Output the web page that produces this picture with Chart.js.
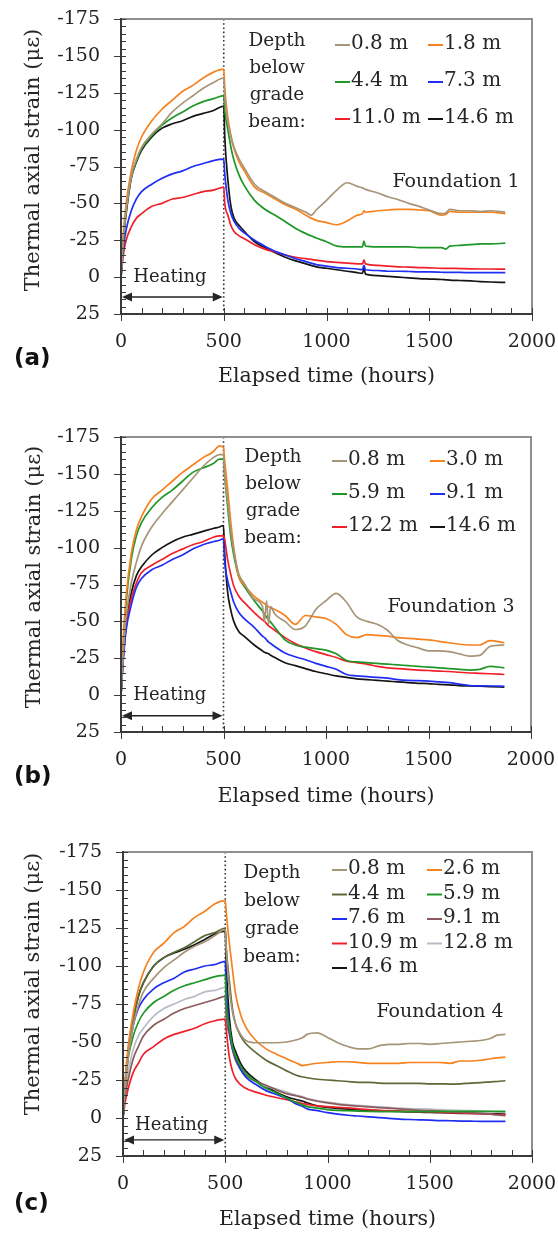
<!DOCTYPE html>
<html>
<head>
<meta charset="utf-8">
<script src="https://cdn.jsdelivr.net/npm/chart.js@4.4.1/dist/chart.umd.min.js"></script>
<style>
  html, body { margin: 0; padding: 0; background: #fff; }
  .panel { position: absolute; left: 0; }
  .rule { position: absolute; z-index: 2; pointer-events: none; }
</style>
</head>
<body>
<canvas id="chartA" class="panel" style="top:0px"></canvas>
<canvas id="chartB" class="panel" style="top:410px"></canvas>
<canvas id="chartC" class="panel" style="top:820px"></canvas>
<script>
// ---- Foundation 1 ----
const hoursF1 = [0, 5, 10, 25, 50, 75, 100, 150, 200, 250, 300, 350, 400, 450, 500,
  505, 520, 535, 550, 575, 600, 650, 700, 750, 800, 850, 900, 925, 950, 1000, 1050, 1100, 1150, 1175, 1182,
  1190, 1250, 1300, 1350, 1400, 1450, 1500, 1560, 1580, 1600, 1650, 1700, 1750, 1800, 1870];
const depthsF1 = ['0.8 m', '1.8 m', '4.4 m', '7.3 m', '11.0 m', '14.6 m'];
const f1_08 = [0, -12, -24, -45, -68, -80, -88, -97, -104, -112, -118, -123, -128, -132, -135,
  -122, -105, -95, -88, -80, -74, -63, -58, -54, -50, -47, -44, -42, -45.5, -52, -59, -64, -61.5, -60.5, -60,
  -59.5, -57, -54.5, -52.5, -50, -48, -45.5, -43, -43.5, -46, -45, -45, -44.5, -45, -44];
const f1_18 = [0, -14, -27, -50, -72, -86, -95, -106, -114, -120, -126, -130, -135, -139, -141,
  -128, -108, -96, -87, -78, -72, -61, -57, -53, -49, -46, -42, -40, -38.5, -37, -35.5, -38, -42, -43, -45,
  -44, -45, -45.5, -46, -46, -45.5, -45, -42, -42.5, -44.5, -44, -44, -44, -44, -43];
const f1_44 = [0, -12, -24, -45, -68, -79, -87, -96, -103, -108, -112, -116, -119, -121, -123,
  -113, -100, -88, -79, -69, -62, -52, -46, -42, -37.5, -33, -29.5, -28, -26.5, -24, -21, -20.5, -20.5, -20.5, -24.5,
  -21, -20.5, -20.5, -20.5, -20.5, -20, -20, -20, -19, -21, -21.5, -22, -22.5, -22.5, -23];
const f1_73 = [0, -9, -18, -32, -45, -53, -58, -63, -67, -70, -72, -75, -77, -79, -80,
  -70, -52, -43, -38, -33, -30, -25, -21, -17.5, -15, -12.5, -10.5, -9.5, -8.5, -7.5, -6.5, -6, -5.5, -5, -8,
  -5, -4.5, -4, -4, -3.8, -3.5, -3.5, -3.3, -3.2, -3.2, -3.2, -3, -3, -3, -3];
const f1_110 = [0, -7, -14, -25, -34, -40, -43, -48, -50, -53, -54, -56, -58, -59, -61,
  -50, -42, -35, -31, -28, -26, -22, -19, -17, -15, -13.5, -12.5, -12, -11.5, -10.5, -10, -9.5, -9, -9, -11.5,
  -9, -8, -7.5, -7, -6.8, -6.5, -6.3, -6, -6, -6, -5.8, -5.6, -5.5, -5.5, -5.4];
const f1_146 = [0, -12, -23, -43, -67, -78, -86, -95, -101, -104, -106, -109, -111, -113, -116,
  -95, -66, -48, -40, -35, -31, -24, -20, -16.5, -13.5, -11, -9, -8, -7, -6, -5, -4, -3, -2.5, -6,
  -2, -1, -0.5, 0, 0.5, 1, 1.3, 1.6, 1.8, 2, 2.3, 2.6, 3, 3.3, 3.6];

// ---- Foundation 3 ----
const hoursF3 = [0, 5, 10, 25, 50, 75, 100, 150, 200, 250, 300, 350, 400, 450, 480, 500,
  505, 520, 535, 550, 575, 600, 650, 690, 700, 710, 720, 730, 750, 800,
  850, 900, 950, 1000, 1050, 1100, 1150, 1200, 1250, 1300,
  1350, 1400, 1450, 1500, 1550, 1600, 1650, 1700, 1750, 1800, 1870];
const depthsF3 = ['0.8 m', '3.0 m', '5.9 m', '9.1 m', '12.2 m', '14.6 m'];
const f3_08 = [0, -13, -26, -53, -76, -90, -101, -114, -123, -131, -139, -147, -155, -161, -163, -163,
  -150, -132, -112, -98, -82, -76, -65, -60, -50, -64, -48, -60, -55, -50,
  -44.5, -47, -58, -64, -69, -63, -53, -50, -48, -44,
  -37, -34, -32, -30, -30, -29.5, -28, -26.5, -27, -33, -34];
const f3_30 = [0, -18, -36, -67, -96, -112, -121, -133, -139, -145, -151, -156, -161, -165, -169, -168,
  -160, -140, -118, -100, -80, -75, -67, -63, -62, -61, -60, -59, -58, -54,
  -48, -54, -53, -52, -48, -41, -39, -41, -40.5, -40,
  -39, -38.5, -38, -37.5, -36.5, -35.5, -34.5, -34, -34, -37, -35.5];
const f3_59 = [0, -16, -31, -63, -92, -108, -117, -127, -134, -139, -145, -151, -154, -157, -160, -160,
  -150, -128, -108, -95, -80, -74, -64, -57, -55, -53, -51, -49.5, -46, -37.5,
  -34, -32.5, -31.5, -30.5, -28, -23.5, -22.5, -22, -21.5, -21,
  -20.5, -20, -19.5, -19, -18.5, -18, -17.5, -17, -17.5, -19.5, -18.5];
const f3_91 = [0, -11, -22, -44, -61, -73, -79, -85, -88, -92, -95, -99, -102, -104, -105, -106,
  -92, -78, -70, -63, -56, -52, -46, -40, -39, -37.5, -36, -35, -33, -28.5,
  -26, -24, -21.5, -19.5, -17.5, -14, -13, -12.5, -12, -11.5,
  -10.5, -10, -9.8, -9.5, -9, -8.5, -7.5, -6.5, -6.3, -6.2, -6];
const f3_122 = [0, -12, -24, -47, -65, -76, -83, -88, -92, -96, -99, -102, -104, -107, -108, -108,
  -106, -92, -82, -74, -67, -63, -56, -51, -50, -48.5, -47, -46, -44, -39,
  -35, -32, -29.5, -27.5, -25.5, -23, -22, -21, -19.5, -18.5,
  -18, -17.5, -17, -16.7, -16.3, -16, -15.5, -15, -14.8, -14.5, -14];
const f3_146 = [0, -12, -24, -49, -69, -81, -87, -95, -100, -104, -107, -109, -111, -113, -114, -115,
  -98, -70, -58, -50, -43, -40, -34, -30, -29, -28.5, -28, -27, -25.5, -22,
  -20, -18, -16, -14.5, -13, -12, -11, -10.5, -10, -9.5,
  -9, -8.5, -8, -7.8, -7.3, -7, -6.5, -6.2, -6, -5.7, -5.4];

// ---- Foundation 4 ----
const hoursF4 = [0, 5, 10, 25, 50, 75, 100, 150, 200, 250, 300, 350, 400, 450, 500,
  505, 520, 535, 550, 575, 600, 650, 700, 750, 800,
  850, 880, 900, 950, 1000, 1050, 1100, 1150, 1200, 1250,
  1300, 1350, 1400, 1450, 1500, 1550, 1600, 1650, 1700, 1750, 1800, 1830, 1870];
const depthsF4 = ['0.8 m', '2.6 m', '4.4 m', '5.9 m', '7.6 m', '9.1 m', '10.9 m', '12.8 m', '14.6 m'];
const f4_08 = [0, -10, -20, -39, -61, -74, -83, -92, -99, -104, -109, -113, -116, -120, -124,
  -110, -85, -70, -62, -55, -51, -49.5, -49.5, -49.5, -50,
  -51.5, -53, -55, -56, -53, -49.5, -47, -45.5, -45.5, -47.5,
  -48.5, -48.5, -49, -49, -48.5, -49, -49.5, -50, -50.5, -51, -52.5, -54.5, -55];
const f4_26 = [0, -13, -25, -47, -69, -85, -96, -109, -115, -122, -126, -132, -136, -141, -143,
  -135, -115, -98, -82, -68, -60, -51, -45.5, -42, -39,
  -36, -34.5, -35, -36, -36.5, -37, -37, -36.5, -36, -36,
  -36, -36, -36.5, -36.5, -36.5, -36.5, -36, -37.5, -37.5, -38, -39, -39.5, -40];
const f4_44 = [0, -11, -22, -43, -65, -80, -89, -100, -105.5, -109, -112, -116, -120, -122, -125,
  -112, -90, -72, -62, -54, -49, -43, -38, -34.5, -31,
  -28, -27, -26.5, -25.5, -25, -24.5, -24, -23.5, -23.5, -23,
  -22.8, -22.8, -22.8, -22.8, -22.5, -22.5, -22.3, -22.5, -23, -23.3, -23.8, -24, -24.5];
const f4_59 = [0, -11, -21, -39, -54, -63, -69, -76, -80, -84, -87, -89, -91, -93, -94,
  -75, -60, -47, -41, -34, -29, -24, -19.5, -16.5, -13,
  -10, -8.5, -7.5, -6.5, -5.5, -5, -4.8, -4.5, -4.3, -4.2,
  -4.2, -4.2, -4.2, -4.2, -4.2, -4.3, -4.3, -4.3, -4.4, -4.4, -4.4, -4.4, -4.4];
const f4_76 = [0, -11, -21, -41, -61, -72, -78, -85, -89, -92, -96, -98, -100, -101, -103,
  -85, -58, -46, -40, -32, -27, -22, -18, -15.5, -13,
  -9, -7.5, -6, -4.8, -3.5, -2.5, -1.8, -1.3, -0.8, -0.3,
  0.2, 0.7, 1, 1.2, 1.4, 1.7, 1.8, 2, 2.1, 2.2, 2.2, 2.2, 2.2];
const f4_91 = [0, -8, -14, -25, -39, -47, -54, -61, -65, -69, -72, -74, -76, -78, -80,
  -66, -55, -45, -38, -32, -28, -24, -21.5, -18.5, -16,
  -14.5, -13.5, -12.5, -11, -10, -9, -8.3, -7.8, -7.3, -6.8,
  -6.5, -6, -5.5, -5, -4.8, -4.5, -4, -3.7, -3.5, -3, -2.5, -2, -1.5];
const f4_109 = [0, -5, -10, -19, -30, -36, -42, -47, -52, -55, -57, -59, -62, -64, -65,
  -58, -40, -31, -26, -22, -19.5, -17, -15, -13.5, -12,
  -10.5, -9.5, -9, -8, -7.5, -7, -6.6, -6, -5.5, -5,
  -4.8, -4.5, -4.3, -4.2, -4, -3.8, -3.5, -3.3, -3, -2.8, -2.5, -2.3, -2.2];
const f4_128 = [0, -9, -17, -30, -45, -54, -59, -67, -72, -75, -78, -80, -83, -84, -86,
  -70, -57, -46, -39, -33, -28.5, -24, -21, -19, -17,
  -15, -14, -13, -11.5, -10.5, -9.5, -8.8, -8.3, -7.8, -7.3,
  -7, -6.5, -6.2, -6, -5.8, -5.5, -5.2, -5, -4.8, -4.5, -4.2, -4, -3.8];
const f4_146 = [0, -11, -21, -43, -65, -80, -89, -100, -105.5, -108.5, -111, -114, -117.5, -121, -123,
  -100, -66, -50, -44, -36, -31, -25, -20.5, -17, -14,
  -12, -11, -10, -8, -7, -6.3, -5.8, -5.3, -5, -4.8,
  -4.6, -4.3, -4, -3.8, -3.7, -3.5, -3.3, -3.1, -3, -2.9, -2.8, -2.7, -2.6];

// axis ticks
const yTickMin = -175, yTickMax = 25, yTickStep = 25;
const xTickMin = 0, xTickMax = 2000, xTickStep = 500;
const heatingEnd = 500;

// line colours
const C = {
  tan: '#a69577', orange: '#f5821f', green: '#1e9628', blue: '#1f2ef2',
  red: '#f0202a', black: '#141414', olive: '#5b6a36', mauve: '#8c5a5c', grey: '#b7bcc5'
};

const SERIF = '"DejaVu Serif", serif';
const AXIS = '#3a3a3a';
const FRAME = '#8f8f8f';
Chart.defaults.font.family = SERIF;
Chart.defaults.color = '#222';

function strokeLine(ctx, x0, y0, x1, y1) {
  ctx.beginPath();
  ctx.moveTo(x0, y0);
  ctx.lineTo(x1, y1);
  ctx.stroke();
}

// heating marker, captions and the in-plot legend
const panelDecor = {
  id: 'panelDecor',
  beforeDatasetsDraw(chart) {
    const { ctx, scales: { x, y } } = chart;
    const xh = x.getPixelForValue(heatingEnd);
    ctx.save();
    ctx.setLineDash([1.6, 2.6]);
    ctx.lineWidth = 1.6;
    ctx.strokeStyle = '#333';
    strokeLine(ctx, xh, y.top, xh, y.bottom);
    ctx.restore();
  },
  afterDraw(chart, args, o) {
    const { ctx, scales: { x, y } } = chart;
    const T = y.top;
    ctx.save();
    ctx.fillStyle = '#262626';

    // heating arrow
    const x0 = x.getPixelForValue(0), x1 = x.getPixelForValue(heatingEnd);
    const ya = y.getPixelForValue(o.arrowAt);
    ctx.strokeStyle = '#222';
    ctx.lineWidth = 1.4;
    strokeLine(ctx, x0 + 6, ya, x1 - 6, ya);
    [[x0, 1], [x1, -1]].forEach(([px, d]) => {
      ctx.beginPath();
      ctx.moveTo(px + 1 * d, ya);
      ctx.lineTo(px + 11 * d, ya - 4.5);
      ctx.lineTo(px + 11 * d, ya + 4.5);
      ctx.closePath();
      ctx.fill();
    });
    ctx.font = '18px ' + SERIF;
    ctx.textAlign = 'center';
    ctx.textBaseline = 'middle';
    ctx.fillText('Heating', x.getPixelForValue(238), y.getPixelForValue(o.heatingAt));

    // depth caption
    ctx.font = '18.5px ' + SERIF;
    ['Depth', 'below', 'grade', 'beam:'].forEach((t, i) => {
      ctx.fillText(t, o.depthX, T + o.depthY0 + i * o.depthGap);
    });

    // foundation name
    ctx.font = '19px ' + SERIF;
    ctx.fillText(o.name, o.nameX, T + o.nameY);

    // legend, two columns
    ctx.font = '20px ' + SERIF;
    ctx.textAlign = 'left';
    chart.data.datasets.forEach((ds, i) => {
      const col = i % 2, row = Math.floor(i / 2);
      const lx = o.legendX[col];
      const ly = T + o.legendY0 + row * o.legendGap;
      ctx.strokeStyle = ds.borderColor;
      ctx.lineWidth = 2;
      strokeLine(ctx, lx, ly + 1, lx + 15, ly + 1);
      ctx.fillText(ds.label, lx + 16, ly);
    });

    // y axis title
    ctx.save();
    ctx.font = '21px ' + SERIF;
    ctx.textAlign = 'center';
    ctx.translate(o.yTitleX, o.yTitleY);
    ctx.rotate(-Math.PI / 2);
    ctx.fillText('Thermal axial strain (\u03bc\u03b5)', 0, 0);
    ctx.restore();

    // panel letter
    ctx.font = 'bold 23px "DejaVu Sans", sans-serif';
    ctx.textAlign = 'left';
    ctx.fillStyle = '#111';
    ctx.fillText(o.letter, 14, o.letterY);
    ctx.restore();
  }
};

// plot frame and tick marks as thin page rules, placed from the chart's own scales
function addRule(l, t, w, h, color) {
  const d = document.createElement('div');
  d.className = 'rule';
  d.style.left = l + 'px';
  d.style.top = t + 'px';
  d.style.width = w + 'px';
  d.style.height = h + 'px';
  d.style.background = color;
  document.body.appendChild(d);
}

function drawFrame(chart) {
  const { x, y } = chart.scales;
  const top0 = chart.canvas.offsetTop;
  const L = Math.round(x.left), R = Math.round(x.right);
  const T = Math.round(y.top) + top0, B = Math.round(y.bottom) + top0;
  addRule(L, T - 1, R - L + 1, 2, FRAME);          // top
  addRule(R - 1, T - 1, 2, B - T + 1, FRAME);      // right
  addRule(L - 1, T - 1, 2, B - T + 2, AXIS);       // left axis
  addRule(L - 1, B - 1, R - L + 2, 2, AXIS);       // bottom axis
  for (let v = yTickMin; v <= yTickMax; v += 5) {
    const py = Math.round(y.getPixelForValue(v)) + top0;
    const major = (v - yTickMin) % yTickStep === 0;
    const x0 = major ? L - 7 : L;
    addRule(x0, py, L + 5 - x0, 1, AXIS);
  }
  for (let v = xTickMin; v <= xTickMax; v += 100) {
    const px = Math.round(x.getPixelForValue(v));
    const major = v % xTickStep === 0;
    addRule(px, B - 6, 1, major ? 13 : 6, AXIS);
  }
}

function makePanel(id, box, hours, labels, series, colors, decor) {
  const canvas = document.getElementById(id);
  canvas.width = 558;
  canvas.height = box.h;
  const datasets = series.map((vals, i) => ({
    label: labels[i],
    data: hours.map((t, k) => ({ x: t, y: vals[k] })),
    borderColor: colors[i],
    backgroundColor: colors[i],
    borderWidth: 1.7,
    pointRadius: 0,
    cubicInterpolationMode: 'monotone',
    fill: false
  }));
  const chart = new Chart(canvas, {
    type: 'line',
    data: { datasets },
    options: {
      responsive: false,
      animation: false,
      devicePixelRatio: 1,
      layout: { padding: { top: box.top, right: 558 - box.right, left: 0, bottom: 0 } },
      scales: {
        x: {
          type: 'linear', position: 'bottom', min: xTickMin, max: xTickMax,
          ticks: { stepSize: xTickStep, padding: 17, font: { size: 19 }, color: '#222', maxRotation: 0,
                   autoSkip: false, callback: v => String(v) },
          grid: { display: false, drawTicks: false },
          border: { display: false },
          title: {
            display: true, text: 'Elapsed time (hours)', font: { size: 20.5 }, color: '#222',
            padding: { top: 0, bottom: box.h - box.xTitleY - 12.3 }
          },
          // keep the plot box where the layout puts it: no room reserved for edge labels
          afterFit(s) { s.height = box.h - box.bottom; s.paddingLeft = 0; s.paddingRight = 0; }
        },
        y: {
          type: 'linear', position: 'left', reverse: true, min: yTickMin, max: yTickMax,
          ticks: { stepSize: yTickStep, padding: 21, font: { size: 19 }, color: '#222', callback: v => String(v) },
          grid: { display: false, drawTicks: false },
          border: { display: false },
          afterFit(s) { s.width = box.left; s.paddingTop = 0; s.paddingBottom = 0; }
        }
      },
      plugins: {
        legend: { display: false },
        tooltip: { enabled: false },
        panelDecor: decor
      }
    },
    plugins: [panelDecor]
  });
  drawFrame(chart);
  return chart;
}

makePanel('chartA',
  { h: 400, top: 19, bottom: 314, left: 121, right: 532, xTitleY: 377 },
  hoursF1, depthsF1, [f1_08, f1_18, f1_44, f1_73, f1_110, f1_146],
  [C.tan, C.orange, C.green, C.blue, C.red, C.black],
  { name: 'Foundation 1', nameX: 456, nameY: 163, letter: '(a)', letterY: 359,
    depthX: 277, depthY0: 22, depthGap: 27,
    legendX: [335, 428], legendY0: 25, legendGap: 37,
    arrowAt: 13.5, heatingAt: 0, yTitleX: 34, yTitleY: 160 });

makePanel('chartB',
  { h: 400, top: 27, bottom: 322, left: 121, right: 531, xTitleY: 387 },
  hoursF3, depthsF3, [f3_08, f3_30, f3_59, f3_91, f3_122, f3_146],
  [C.tan, C.orange, C.green, C.blue, C.red, C.black],
  { name: 'Foundation 3', nameX: 451, nameY: 170, letter: '(b)', letterY: 367,
    depthX: 273, depthY0: 20, depthGap: 27,
    legendX: [332, 430], legendY0: 23, legendGap: 33,
    arrowAt: 14, heatingAt: 0, yTitleX: 35, yTitleY: 167 });

makePanel('chartC',
  { h: 414, top: 32, bottom: 336, left: 123, right: 532, xTitleY: 400 },
  hoursF4, depthsF4, [f4_08, f4_26, f4_44, f4_59, f4_76, f4_91, f4_109, f4_128, f4_146],
  [C.tan, C.orange, C.olive, C.green, C.blue, C.mauve, C.red, C.grey, C.black],
  { name: 'Foundation 4', nameX: 440, nameY: 160, letter: '(c)', letterY: 384,
    depthX: 272, depthY0: 21, depthGap: 28,
    legendX: [332, 427], legendY0: 17, legendGap: 24.5,
    arrowAt: 14.4, heatingAt: 5, yTitleX: 34, yTitleY: 164 });
</script>
</body>
</html>
